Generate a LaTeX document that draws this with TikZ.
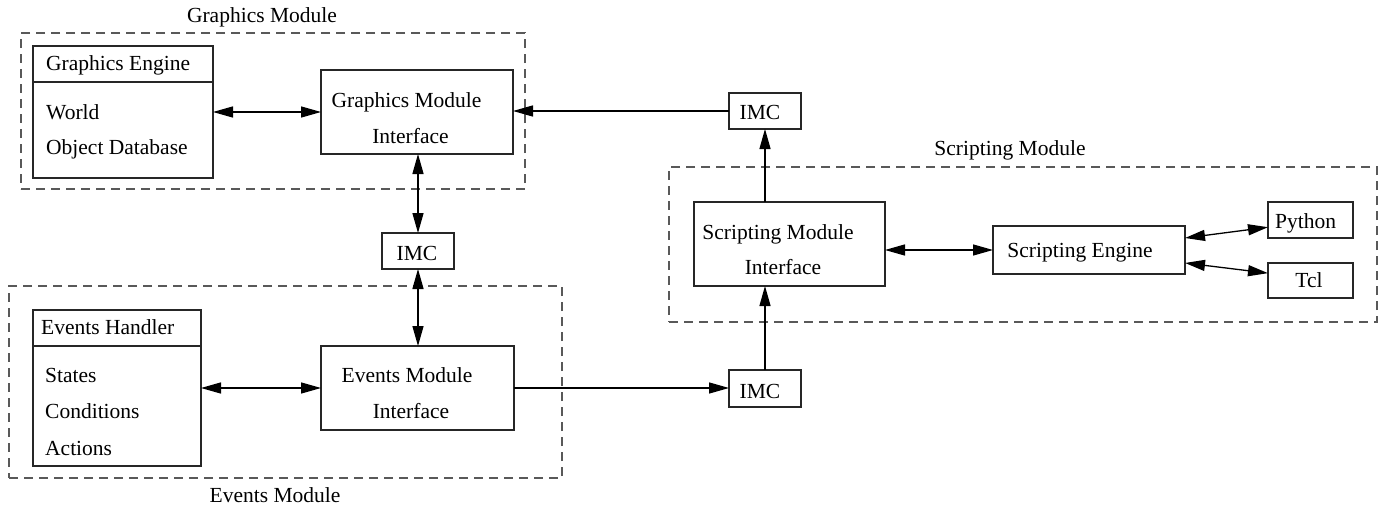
\documentclass[tikz,border=0pt]{standalone}
\usepackage{fontspec}
\setmainfont{Liberation Serif}
\usetikzlibrary{arrows.meta,calc}
\begin{document}
\begin{tikzpicture}[x=1pt,y=-1pt,
  font=\fontsize{21.5}{26}\selectfont,
  box/.style={draw=black!85,line width=1.3pt,inner sep=0pt,outer sep=0pt},
  modbox/.style={draw=black!65,line width=1.3pt,dash pattern=on 9pt off 6pt,inner sep=0pt},
  txt/.style={inner sep=0pt,anchor=base west},
  ctxt/.style={inner sep=0pt,anchor=base},
  link/.style={line width=1.3pt,black},
  dualarrow/.style={link,{Triangle[length=20pt,width=11pt]}-{Triangle[length=20pt,width=11pt]}},
  fwdarrow/.style={link,-{Triangle[length=20pt,width=11pt]}}]
\useasboundingbox (0,0) rectangle (1385,506);

% module frames
\node[modbox,minimum width=504pt,minimum height=156pt] (gmod) at (273,111) {};
\node[modbox,minimum width=553pt,minimum height=192pt] (emod) at (285.5,382) {};
\node[modbox,minimum width=708pt,minimum height=155pt] (smod) at (1023,244.5) {};

\node[ctxt] (gmodlbl) at (262,23) {Graphics Module};
\node[ctxt] (emodlbl) at (275,502) {Events Module};
\node[ctxt] (smodlbl) at (1010,155) {Scripting Module};

% graphics module
\node[box,minimum width=180pt,minimum height=132pt] (ge) at (123,112) {};
\draw[box] ($(ge.north west)+(0,36)$) -- ($(ge.north east)+(0,36)$);
\node[txt] (getitle) at (46,70) {Graphics Engine};
\node[txt] (geworld) at (46,119) {World};
\node[txt] (gedb) at (46,154) {Object Database};

\node[box,minimum width=192pt,minimum height=84pt] (gmi) at (417,112) {};
\node[ctxt] (gmi1) at (406.5,107) {Graphics Module};
\node[ctxt] (gmi2) at (410.5,143) {Interface};

% events module
\node[box,minimum width=168pt,minimum height=156pt] (eh) at (117,388) {};
\draw[box] ($(eh.north west)+(0,36)$) -- ($(eh.north east)+(0,36)$);
\node[txt] (ehtitle) at (41,334) {Events Handler};
\node[txt] (ehs) at (45,382) {States};
\node[txt] (ehc) at (45,418) {Conditions};
\node[txt] (eha) at (45,455) {Actions};

\node[box,minimum width=193pt,minimum height=84pt] (emi) at (417.5,388) {};
\node[ctxt] (emi1) at (407,382) {Events Module};
\node[ctxt] (emi2) at (411,418) {Interface};

% scripting module
\node[box,minimum width=191pt,minimum height=84pt] (smi) at (789.5,244) {};
\node[ctxt] (smi1) at (778,239) {Scripting Module};
\node[ctxt] (smi2) at (783,274) {Interface};

\node[box,minimum width=192pt,minimum height=48pt] (se) at (1089,250) {};
\node[ctxt] (setxt) at (1080,257) {Scripting Engine};

\node[box,minimum width=85pt,minimum height=36pt] (py) at (1310.5,220) {};
\node[txt] (pytxt) at (1275,228) {Python};
\node[box,minimum width=85pt,minimum height=35pt] (tcl) at (1310.5,280.5) {};
\node[ctxt] (tcltxt) at (1309,287) {Tcl};

% inter-module communication
\node[box,minimum width=72pt,minimum height=36pt] (imcg) at (418,251) {};
\node[ctxt] (imcgtxt) at (417,260) {IMC};
\node[box,minimum width=72pt,minimum height=36pt] (imct) at (765,111) {};
\node[ctxt] (imcttxt) at (760,119) {IMC};
\node[box,minimum width=72pt,minimum height=37pt] (imcb) at (765,388.5) {};
\node[ctxt] (imcbtxt) at (760,398) {IMC};

% connectors
\draw[dualarrow] (ge.east) -- (gmi.west);
\draw[fwdarrow] (imct.west) -- (imct.west -| gmi.east);
\draw[dualarrow] (imcg.north |- gmi.south) -- (imcg.north);
\draw[dualarrow] (imcg.south) -- (imcg.south |- emi.north);
\draw[dualarrow] (eh.east) -- (emi.west);
\draw[fwdarrow] (emi.east) -- (emi.east -| imcb.west);
\draw[fwdarrow] (imcb.north) -- (imcb.north |- smi.south);
\draw[fwdarrow] (smi.north -| imct.south) -- (imct.south);
\draw[dualarrow] (smi.east |- se.west) -- (se.west);
\draw[dualarrow] ($(se.north east)!0.25!(se.south east)$) -- ($(py.north west)!0.7!(py.south west)$);
\draw[dualarrow] ($(se.north east)!0.77!(se.south east)$) -- ($(tcl.north west)!0.29!(tcl.south west)$);
\end{tikzpicture}
\end{document}
